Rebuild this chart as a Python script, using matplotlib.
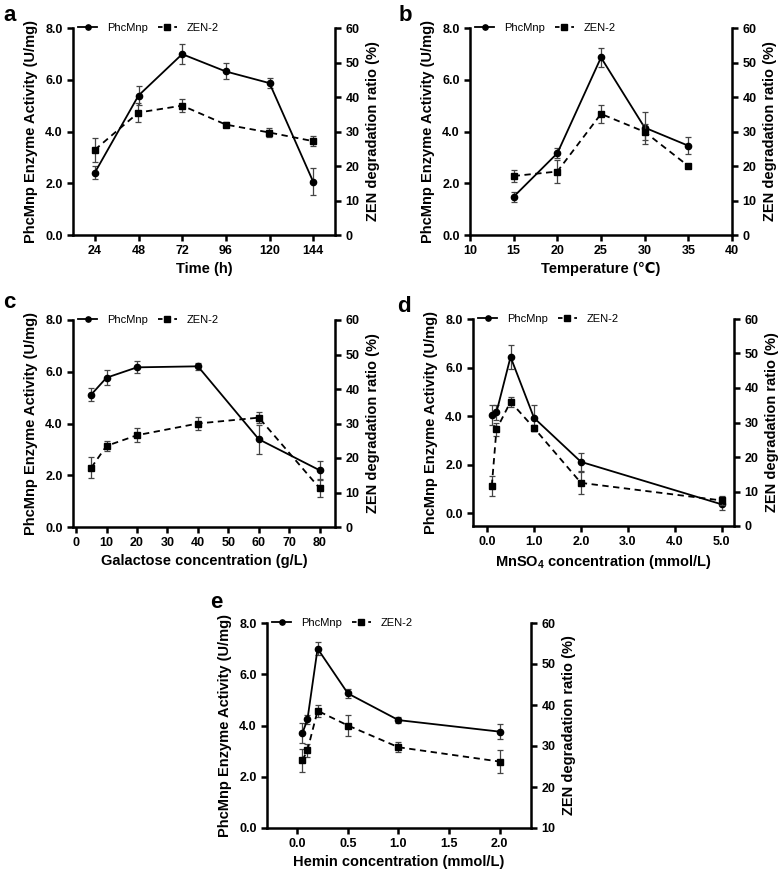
import matplotlib
matplotlib.use("Agg")
import matplotlib.pyplot as plt
from matplotlib.lines import Line2D

plt.rcParams['font.family'] = ['Liberation Sans', 'DejaVu Sans']
plt.rcParams['mathtext.fontset'] = 'custom'
plt.rcParams['mathtext.rm'] = 'Liberation Sans'
plt.rcParams['mathtext.bf'] = 'Liberation Sans:bold'

# ---------------- data ----------------
a_x = [24, 48, 72, 96, 120, 144]
a_phc = [2.41, 5.39, 6.99, 6.32, 5.87, 2.06]
a_phc_err = [0.26, 0.35, 0.40, 0.31, 0.18, 0.52]
a_zen = [24.7, 35.5, 37.5, 32.0, 29.7, 27.2]
a_zen_err = [3.4, 2.7, 1.8, 0.8, 1.3, 1.5]

b_x = [15, 20, 25, 30, 35]
b_phc = [1.48, 3.16, 6.86, 4.15, 3.45]
b_phc_err = [0.20, 0.20, 0.35, 0.62, 0.32]
b_zen = [17.1, 18.4, 35.1, 29.9, 20.0]
b_zen_err = [1.8, 3.3, 2.6, 2.4, 0.6]

c_x = [5, 10, 20, 40, 60, 80]
c_phc = [5.12, 5.77, 6.17, 6.21, 3.39, 2.19]
c_phc_err = [0.26, 0.29, 0.23, 0.14, 0.56, 0.36]
c_zen = [17.2, 23.5, 26.6, 30.0, 31.7, 11.2]
c_zen_err = [3.1, 1.5, 2.1, 1.8, 1.5, 2.6]

d_x = [0.1, 0.2, 0.5, 1.0, 2.0, 5.0]
d_phc = [4.03, 4.16, 6.44, 3.93, 2.12, 0.37]
d_phc_err = [0.41, 0.30, 0.48, 0.55, 0.38, 0.22]
d_zen = [11.6, 28.0, 36.0, 28.4, 12.5, 7.4]
d_zen_err = [2.9, 1.8, 1.4, 1.0, 3.1, 1.2]

e_x = [0.05, 0.1, 0.2, 0.5, 1.0, 2.0]
e_phc = [3.70, 4.24, 7.00, 5.25, 4.21, 3.76]
e_phc_err = [0.40, 0.18, 0.26, 0.19, 0.13, 0.28]
e_zen = [26.5, 29.0, 38.6, 35.0, 29.7, 26.2]
e_zen_err = [2.8, 1.6, 1.5, 2.6, 1.2, 2.8]

series_names = ['PhcMnp', 'ZEN-2']
left_label = 'PhcMnp Enzyme Activity (U/mg)'
right_label = 'ZEN degradation ratio (%)'

W, H = 784, 877
fig = plt.figure(figsize=(W / 100, H / 100), dpi=100)

def box(l, t, r, b):
    return [l / W, 1 - b / H, (r - l) / W, (b - t) / H]

SPW = 1.8
TICKFS = 9
LABFS = 10.5

def panel(rect, x, phc, phc_err, zen, zen_err, xlim, xticks, xticklabels,
          xlabel, ylim_l, ylim_r, rticks):
    ax = fig.add_axes(rect)
    ax2 = ax.twinx()
    for a in (ax, ax2):
        a.spines['top'].set_visible(False)
        for s in ('left', 'right', 'bottom'):
            a.spines[s].set_linewidth(SPW)
        a.tick_params(width=SPW, length=4.5, labelsize=TICKFS, pad=3)
    ax.spines['right'].set_visible(False)
    ax2.spines['left'].set_visible(False)
    ax2.spines['bottom'].set_visible(False)

    ax.errorbar(x, phc, yerr=phc_err, color='black', lw=1.3, marker='o', ms=4.5,
                ecolor='#444444', elinewidth=0.9, capsize=2.5, capthick=0.9, zorder=3)
    ax2.errorbar(x, zen, yerr=zen_err, color='black', lw=1.3, marker='s', ms=4.5,
                 ls=(0, (3.5, 2.5)), ecolor='#444444', elinewidth=0.9, capsize=2.5,
                 capthick=0.9, zorder=3)
    ax.set_xlim(*xlim)
    ax.set_xticks(xticks)
    ax.set_xticklabels(xticklabels, fontweight='bold')
    ax.set_ylim(*ylim_l)
    lt = [0, 2, 4, 6, 8]
    ax.set_yticks(lt)
    ax.set_yticklabels(['%.1f' % v for v in lt], fontweight='bold')
    ax2.set_ylim(*ylim_r)
    ax2.set_yticks(rticks)
    ax2.set_yticklabels(['%d' % v for v in rticks], fontweight='bold')
    ax.set_xlabel(xlabel, fontsize=LABFS, fontweight='bold', labelpad=3)
    ax.set_ylabel(left_label, fontsize=LABFS, fontweight='bold', labelpad=5)
    ax2.set_ylabel(right_label, fontsize=LABFS, fontweight='bold', labelpad=5)

    h1 = Line2D([], [], color='black', lw=1.3, marker='o', ms=3.8)
    h2 = Line2D([], [], color='black', lw=1.3, marker='s', ms=3.8, ls=(0, (2.5, 2.0)))
    ax2.legend([h1, h2], series_names, loc='center left', bbox_to_anchor=(0.02, 1.0),
               ncol=2, frameon=False, fontsize=8, handlelength=1.7,
               handletextpad=0.9, columnspacing=0.9, borderpad=0, borderaxespad=0,
               numpoints=1)
    return ax, ax2

panel(box(73, 28, 335, 235), a_x, a_phc, a_phc_err, a_zen, a_zen_err,
      (12, 156), a_x, [str(v) for v in a_x], 'Time (h)', (0, 8), (0, 60),
      [0, 10, 20, 30, 40, 50, 60])

bt = [10, 15, 20, 25, 30, 35, 40]
panel(box(470, 28, 732, 235), b_x, b_phc, b_phc_err, b_zen, b_zen_err,
      (10, 40), bt, [str(v) for v in bt], 'Temperature (\u2103)', (0, 8), (0, 60),
      [0, 10, 20, 30, 40, 50, 60])

ct = [0, 10, 20, 30, 40, 50, 60, 70, 80]
panel(box(73, 320, 335, 527), c_x, c_phc, c_phc_err, c_zen, c_zen_err,
      (-1, 85), ct, [str(v) for v in ct], 'Galactose concentration (g/L)', (0, 8), (0, 60),
      [0, 10, 20, 30, 40, 50, 60])

dt = [0, 1, 2, 3, 4, 5]
panel(box(473, 319, 734, 526), d_x, d_phc, d_phc_err, d_zen, d_zen_err,
      (-0.3, 5.26), dt, ['%.1f' % v for v in dt], r'MnSO$_\mathbf{4}$ concentration (mmol/L)',
      (-0.52, 8), (0, 60), [0, 10, 20, 30, 40, 50, 60])

et = [0, 0.5, 1.0, 1.5, 2.0]
panel(box(267, 623, 531, 828), e_x, e_phc, e_phc_err, e_zen, e_zen_err,
      (-0.3, 2.31), et, ['%.1f' % v for v in et], 'Hemin concentration (mmol/L)',
      (0, 8), (10, 60), [10, 20, 30, 40, 50, 60])

for letter, px, py in [('a', 3, 21), ('b', 399, 21), ('c', 3, 308), ('d', 397, 312), ('e', 210, 608)]:
    fig.text(px / W, 1 - py / H, letter, fontsize=16, fontweight='bold', va='baseline', ha='left')

fig.savefig('out.png', dpi=100)
